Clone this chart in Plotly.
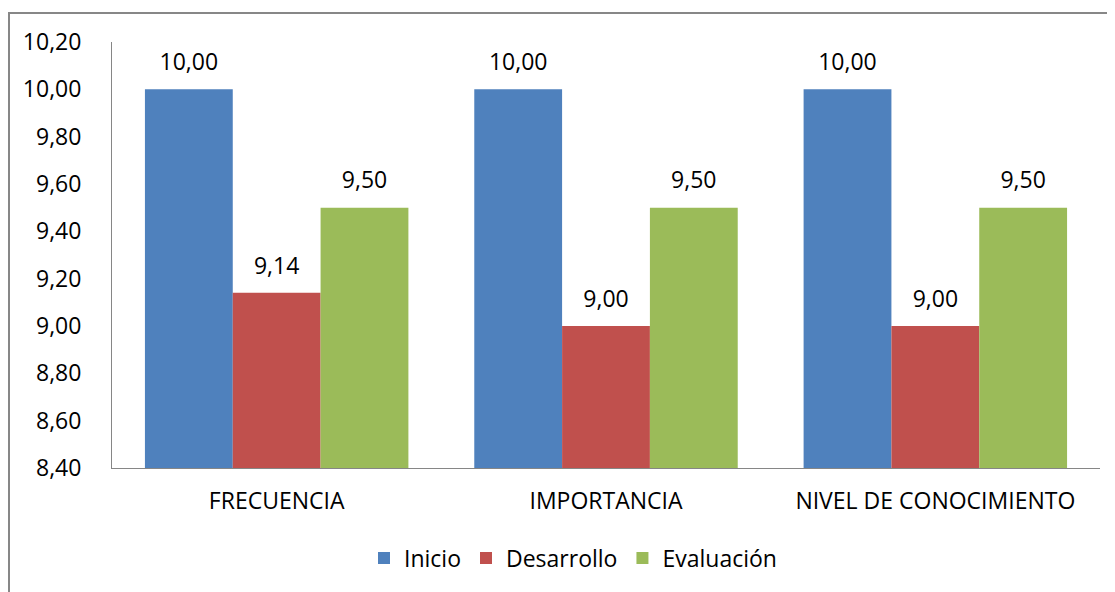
import plotly.graph_objects as go

categories = ["FRECUENCIA", "IMPORTANCIA", "NIVEL DE CONOCIMIENTO"]
series_names = ["Inicio", "Desarrollo", "Evaluación"]
inicio = [10.00, 10.00, 10.00]
desarrollo = [9.14, 9.00, 9.00]
evaluacion = [9.50, 9.50, 9.50]
colors = ["#4F81BD", "#C0504D", "#9BBB59"]
y_ticks = [8.4, 8.6, 8.8, 9.0, 9.2, 9.4, 9.6, 9.8, 10.0, 10.2]

FONT = dict(family="Open Sans", size=23, color="#000000")

fig = go.Figure()
for name, vals, col in zip(series_names, [inicio, desarrollo, evaluacion], colors):
    fig.add_trace(go.Bar(
        x=categories, y=vals, name=name,
        marker=dict(color=col, line=dict(width=0)),
        offsetgroup=name, alignmentgroup="g",
    ))
for name, vals in zip(series_names, [inicio, desarrollo, evaluacion]):
    fig.add_trace(go.Scatter(
        x=categories, y=vals, mode="markers+text",
        marker=dict(size=20, opacity=0),
        text=[f"{v:.2f}".replace(".", ",") for v in vals],
        textposition="top center", textfont=FONT,
        offsetgroup=name, alignmentgroup="g",
        showlegend=False, hoverinfo="skip", cliponaxis=False,
    ))

# page body has an 8px margin: figure coordinates = screen coordinates - 8
OFF = 8
W, H = 1115 - OFF, 592 - OFF
L, T = 112 - OFF, 42 - OFF
R = W - (1100 - OFF)
B = H - (468 - OFF)
pw, ph = W - L - R, H - T - B

def px_x(px):
    return (px - OFF - L) / pw

def px_y(py):
    return (H - B - (py - OFF)) / ph

fig.update_layout(
    width=W, height=H,
    margin=dict(l=L, r=R, t=T, b=B),
    paper_bgcolor="white", plot_bgcolor="white",
    separators=",.",
    barmode="group", bargap=0.2, bargroupgap=0,
    scattermode="group", scattergap=0.2,
    font=FONT,
    showlegend=True,
    legend=dict(orientation="h", x=px_x(573), xanchor="center",
                y=px_y(558), yanchor="middle", font=FONT,
                itemwidth=30, traceorder="normal"),
    xaxis=dict(showline=True, linecolor="#868686", linewidth=1,
               ticks="", showgrid=False, tickfont=FONT,
               ticklabelstandoff=12),
    yaxis=dict(range=[8.4, 10.2], tickvals=y_ticks, tickformat=".2f",
               showline=True, linecolor="#868686", linewidth=1,
               ticks="", showgrid=False, tickfont=FONT, zeroline=False,
               ticklabelstandoff=25),
    shapes=[dict(type="rect", xref="paper", yref="paper",
                 x0=px_x(9), x1=px_x(1130), y0=px_y(620), y1=px_y(13),
                 line=dict(color="#878787", width=2), layer="below")],
)

fig.write_html("out.html")
